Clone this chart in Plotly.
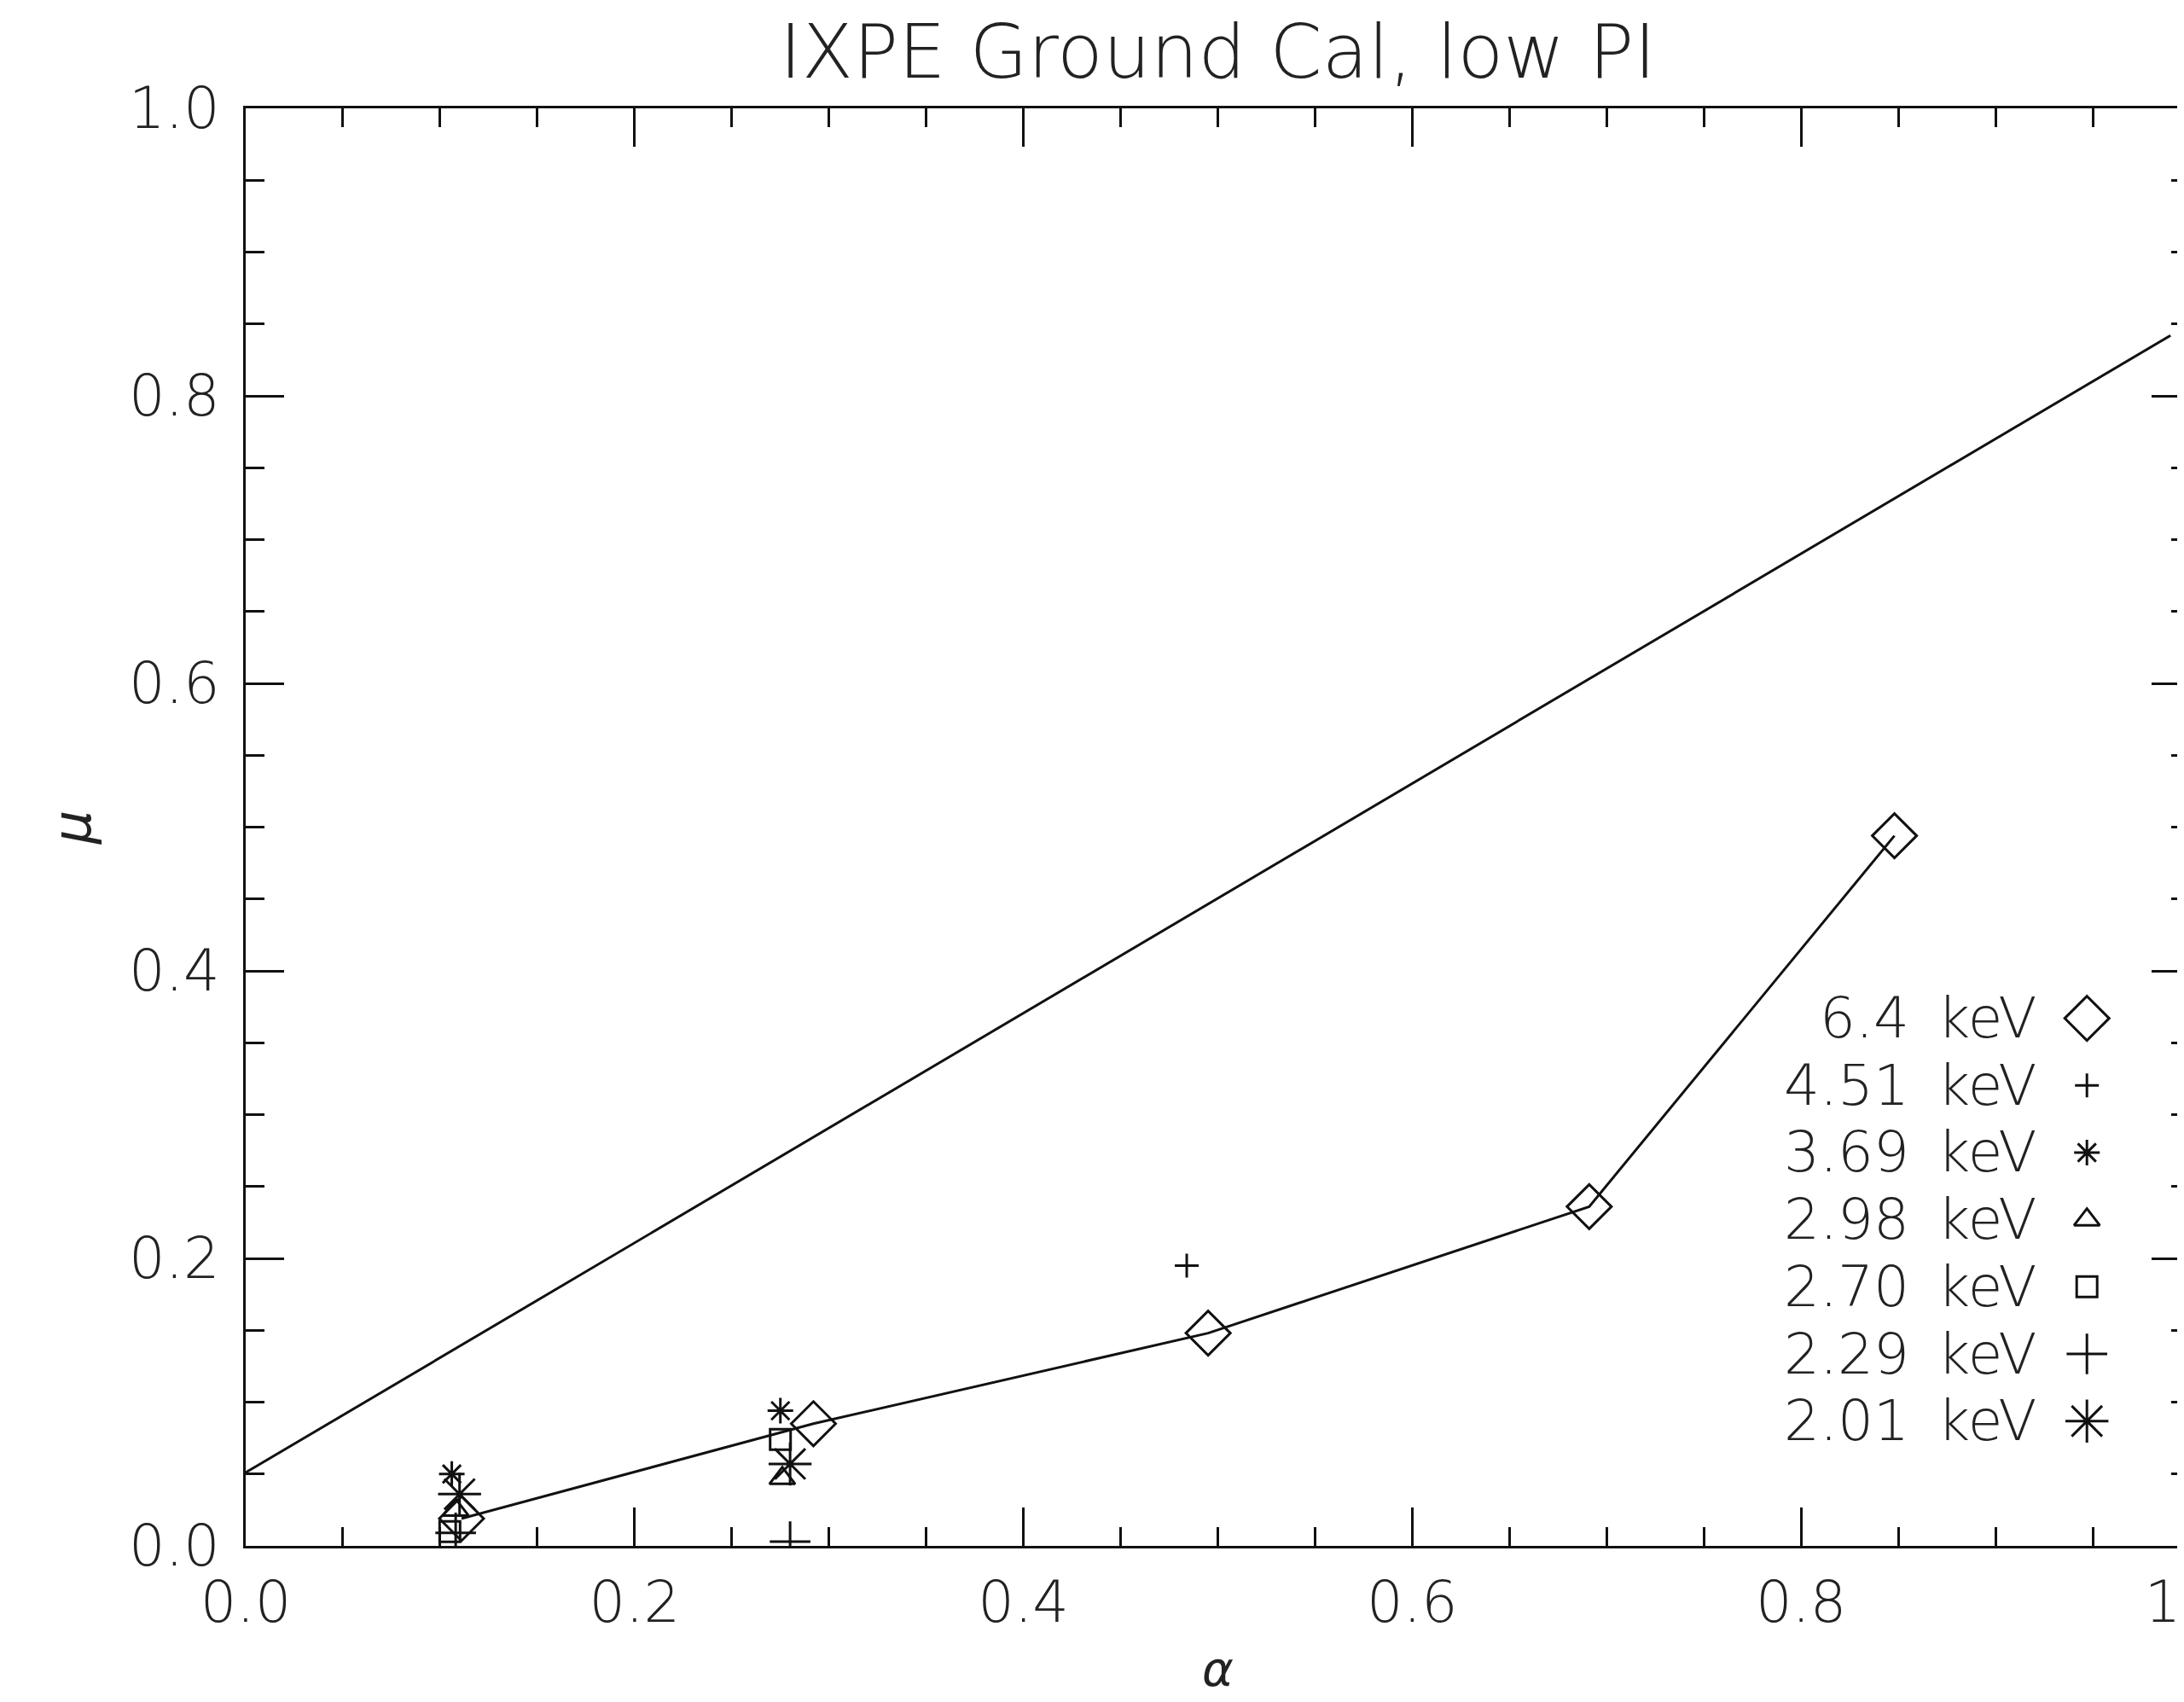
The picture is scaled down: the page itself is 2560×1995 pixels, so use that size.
import plotly.graph_objects as go

# ── Data ────────────────────────────────────────────────────
energies = ['6.4', '4.51', '3.69', '2.98', '2.70', '2.29', '2.01']

alpha_640 = [0.111, 0.292, 0.495, 0.691, 0.848]
mu_640    = [0.019, 0.085, 0.148, 0.236, 0.494]

alpha_451 = [0.484]
mu_451    = [0.195]

alpha_369 = [0.106, 0.275]
mu_369    = [0.050, 0.094]

alpha_298 = [0.108, 0.276]
mu_298    = [0.025, 0.047]

alpha_270 = [0.105, 0.275]
mu_270    = [0.010, 0.074]

alpha_229 = [0.108, 0.280]
mu_229    = [0.009, 0.003]

alpha_201 = [0.110, 0.280]
mu_201    = [0.036, 0.057]

ref_alpha = [0.0, 0.99]
ref_mu    = [0.051, 0.842]

x_ticks = [0.0, 0.2, 0.4, 0.6, 0.8, 1.0]
y_ticks = [0.0, 0.2, 0.4, 0.6, 0.8, 1.0]

# ── Styles ──────────────────────────────────────────────────
INK  = '#111111'
TXT  = '#222222'
FONT = 'DejaVu Sans'
WEIGHT = 200   # thin, like the IDL vector font

styles = [
    dict(symbol='diamond-open',     size=40),
    dict(symbol='cross-thin-open',  size=20),
    dict(symbol='asterisk-open',    size=25),
    dict(symbol='triangle-up-open', size=26),
    dict(symbol='square-open',      size=24),
    dict(symbol='cross-thin-open',  size=34),
    dict(symbol='asterisk-open',    size=42),
]
series = [
    (alpha_640, mu_640), (alpha_451, mu_451), (alpha_369, mu_369),
    (alpha_298, mu_298), (alpha_270, mu_270), (alpha_229, mu_229),
    (alpha_201, mu_201),
]

# legend layout (fractions of the plot area)
LEG_TEXT_X = 0.922
LEG_SYM_X  = 0.947
LEG_Y0     = 0.367
LEG_DY     = 0.0467

fig = go.Figure()

# straight reference line
fig.add_trace(go.Scatter(
    x=ref_alpha, y=ref_mu, mode='lines',
    line=dict(color=INK, width=3), hoverinfo='skip'
))

# data series
for i, (e, (xs, ys), st) in enumerate(zip(energies, series, styles)):
    fig.add_trace(go.Scatter(
        x=xs, y=ys,
        mode='lines+markers' if i == 0 else 'markers',
        name=f"{e} keV",
        line=dict(color=INK, width=3),
        marker=dict(symbol=st['symbol'], size=st['size'], color=INK,
                    line=dict(color=INK, width=3))
    ))

# legend: text then symbol, on an overlay axis spanning the plot area
leg_y = [LEG_Y0 - k * LEG_DY for k in range(len(energies))]
for k, (e, st) in enumerate(zip(energies, styles)):
    fig.add_trace(go.Scatter(
        x=[LEG_SYM_X], y=[leg_y[k]], xaxis='x2', yaxis='y2', mode='markers',
        marker=dict(symbol=st['symbol'], size=st['size'], color=INK,
                    line=dict(color=INK, width=3)),
        hoverinfo='skip'
    ))
    fig.add_annotation(
        x=LEG_TEXT_X, y=leg_y[k], xref='x2', yref='y2',
        text=f"{e}\u2002keV", showarrow=False,
        xanchor='right', yanchor='middle',
        font=dict(family=FONT, size=66, color=TXT, weight=WEIGHT)
    )

# x-axis title, just above the bottom edge like the original
fig.add_annotation(
    x=0.5, y=-0.086, xref='paper', yref='paper',
    text='α', showarrow=False, xanchor='center', yanchor='middle',
    font=dict(family=FONT, size=56, color=TXT, style='italic', weight=WEIGHT)
)

axis_common = dict(
    range=[0, 1], showgrid=False, zeroline=False, automargin=False,
    ticks='inside', ticklen=45, tickwidth=3, tickcolor=INK,
    showline=True, linecolor=INK, linewidth=3, mirror='ticks',
    tickformat='.1f', tickfont=dict(family=FONT, size=67, color=TXT, weight=WEIGHT),
    minor=dict(dtick=0.05, ticks='inside', ticklen=22, tickwidth=3, tickcolor=INK),
)

fig.update_layout(
    template='none',
    width=2560, height=1995,
    margin=dict(l=280, r=1, t=119, b=191, pad=0),
    paper_bgcolor='white', plot_bgcolor='white',
    showlegend=False,
    title=dict(
        text="IXPE Ground Cal, low PI",
        x=0.5, xref='paper', xanchor='center',
        y=1 - 52 / 1995, yanchor='middle',
        font=dict(family=FONT, size=88, color=TXT, weight=WEIGHT)
    ),
    xaxis=dict(
        **axis_common, tickvals=x_ticks, ticklabelstandoff=6,
        ticklabeloverflow='allow',
    ),
    yaxis=dict(
        **axis_common, tickvals=y_ticks, ticklabelstandoff=14,
        ticklabeloverflow='allow',
        title=dict(text='μ', standoff=25,
                   font=dict(family=FONT, size=62, color=TXT, style='italic', weight=WEIGHT)),
    ),
    xaxis2=dict(range=[0, 1], overlaying='x', visible=False, fixedrange=True),
    yaxis2=dict(range=[0, 1], overlaying='y', visible=False, fixedrange=True),
)

fig.write_html("out.html")
